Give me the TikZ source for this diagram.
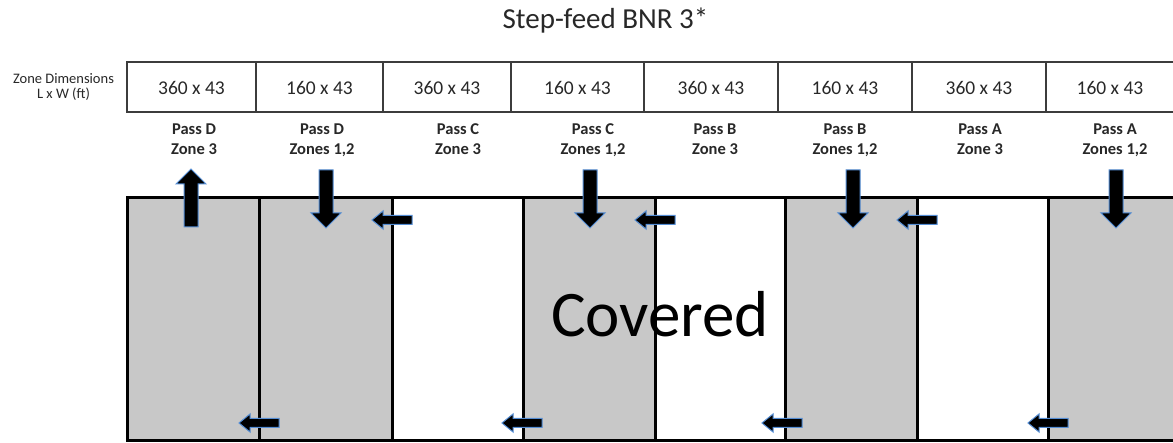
\documentclass[tikz,border=0pt]{standalone}
\usepackage{fontspec}
\setmainfont{Carlito}
\definecolor{zonegray}{RGB}{200,200,200}
\definecolor{glow}{RGB}{84,141,212}
\definecolor{txt}{RGB}{40,40,40}
\definecolor{tline}{RGB}{60,60,60}
\begin{document}
\begin{tikzpicture}[x=1pt,y=1pt,
  zoneline/.style={line width=3pt, black},
  tabline/.style={line width=1.2pt, tline},
  blk/.style={fill=black, draw=glow, line width=1pt, line join=miter},
  pics/longarrow/.style={code={\path[blk] (0,0) -- (-15,15) -- (-15,7) -- (-58,7) -- (-58,-7) -- (-15,-7) -- (-15,-15) -- cycle;}},
  pics/shortarrow/.style={code={\path[blk] (0,0) -- (-11,9) -- (-11,4.5) -- (-40,4.5) -- (-40,-4.5) -- (-11,-4.5) -- (-11,-9) -- cycle;}},
  titletext/.style={font=\fontsize{29}{31}\selectfont, text=txt, inner sep=0pt, anchor=base},
  dimtext/.style={font=\fontsize{19.5}{22}\selectfont, text=txt, inner sep=0pt, anchor=base},
  passtext/.style={font=\bfseries\fontsize{16.5}{19}\selectfont, text=txt, inner sep=0pt, anchor=base},
  smalltext/.style={font=\fontsize{14.5}{16}\selectfont, text=txt, inner sep=0pt, anchor=base},
  bigtext/.style={font=\fontsize{65}{70}\selectfont, text=black, inner sep=0pt, anchor=base},
]
\useasboundingbox (0,0) rectangle (1173,443);
\clip (0,0) rectangle (1173,443);
% zone fills
\fill[white] (0,0) rectangle (1173,443);
\fill[zonegray] (127,2) rectangle (392,245);
\fill[zonegray] (523,2) rectangle (655,245);
\fill[zonegray] (785,2) rectangle (917,245);
\fill[zonegray] (1048,2) rectangle (1185,245);
% covered
\node[bigtext] (covered) at (660,106) {Covered};
% zone lines
\draw[zoneline] (127,2) rectangle (1190,245);
\foreach \x in {259,392,523,655,785,917,1048} \draw[zoneline] (\x,2) -- (\x,245);
% table
\draw[tabline] (127,331) rectangle (1190,381);
\foreach \x in {256,383,511,644,778,912,1046} \draw[tabline] (\x,331) -- (\x,381);
% title
\node[titletext] (title) at (605.5,414) {Step-feed BNR 3*};
% zone dimensions label
\node[smalltext] (zd1) at (63.5,359) {Zone Dimensions};
\node[smalltext] (zd2) at (63.5,344) {L x W (ft)};
% table text
\foreach \x/\t [count=\i] in {191.5/360 x 43, 319.5/160 x 43, 447/360 x 43, 577.5/160 x 43, 711/360 x 43, 845/160 x 43, 979/360 x 43, 1110/160 x 43}
  \node[dimtext] (dim\i) at (\x,348) {\t};
% pass labels
\foreach \x/\a/\b [count=\i] in {194/Pass D/Zone 3, 322/Pass D/{Zones 1,2}, 458/Pass C/Zone 3, 593/Pass C/{Zones 1,2}, 715/Pass B/Zone 3, 845/Pass B/{Zones 1,2}, 980/Pass A/Zone 3, 1115/Pass A/{Zones 1,2}}{
  \node[passtext] (pa\i) at (\x,308) {\a};
  \node[passtext] (pb\i) at (\x,288) {\b};
}
% vertical arrows
\pic[rotate=90] at (191,274) {longarrow};
\pic[rotate=-90] at (326,215) {longarrow};
\pic[rotate=-90] at (590,215) {longarrow};
\pic[rotate=-90] at (853,215) {longarrow};
\pic[rotate=-90] at (1116,215) {longarrow};
% top horizontal arrows
\pic[rotate=180] at (372,223) {shortarrow};
\pic[rotate=180] at (635,223) {shortarrow};
\pic[rotate=180] at (897,223) {shortarrow};
% bottom horizontal arrows
\pic[rotate=180] at (239,20) {shortarrow};
\pic[rotate=180] at (502,20) {shortarrow};
\pic[rotate=180] at (762,20) {shortarrow};
\pic[rotate=180] at (1028,20) {shortarrow};
\end{tikzpicture}
\end{document}
